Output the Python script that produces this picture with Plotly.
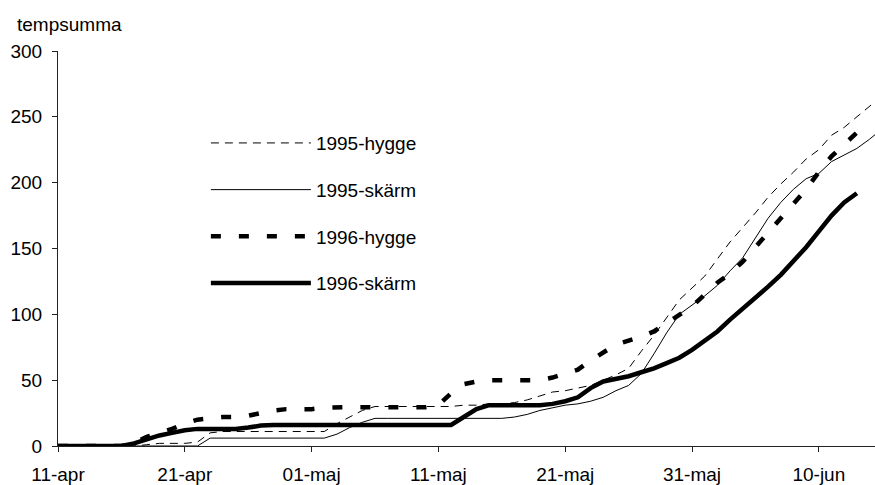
import pandas as pd
import plotly.graph_objects as go

# ---- data (daily values, starting 11-apr) ----
start_date = "1996-04-11"
dates = [d.strftime("%Y-%m-%d") for d in pd.date_range(start_date, "1996-06-15", freq="D")]

hygge_1995 = [0, 0, 0, 0, 0, 0, 0,
              1, 2, 2, 2, 3, 10,
              11, 11, 11, 11, 11, 11, 11, 11, 11,
              17, 22, 27, 30,
              30, 30, 30, 30, 30, 30,
              31, 31, 32, 32, 33, 35, 38, 41, 42, 44, 46, 50, 54, 59,
              72, 84, 98, 111, 120, 129, 142, 155, 166, 177, 189, 199, 208, 218, 225, 236, 242, 250, 258, 266]

skarm_1995 = [0, 0, 0, 0, 0, 0, 0, 0, 0, 0, 0, 0,
              6, 6, 6, 6, 6, 6, 6, 6, 6, 6,
              9, 14, 18, 21,
              21, 21, 21, 21, 21, 21, 21, 21, 21, 21,
              22, 24, 27, 29, 31, 32, 34, 37, 42, 46,
              55, 70, 86, 100, 107, 114, 122, 133, 143, 158, 173, 185, 195, 203, 207, 216, 221, 226, 233, 241]

hygge_1996 = [0, 0, 0, 0, 0, 0,
              2, 7, 10, 13, 17, 20, 21, 22, 22, 23, 25, 27, 28, 28, 28, 29,
              29.5, 29.5, 29.5, 29.5, 29.5, 29.5, 29.5, 29.5,
              31, 40, 47, 49,
              50, 50, 50, 50, 50,
              52, 55, 58, 65, 71, 77, 80, 83, 87, 93, 99, 106, 115, 124, 131, 140,
              151, 162, 174, 185, 195, 208, 220, 229, 238]

skarm_1996 = [0, 0, 0, 0, 0, 0,
              2, 5, 8, 10, 12, 13, 13, 13, 13, 14, 15.5,
              16, 16, 16, 16, 16, 16, 16, 16, 16, 16, 16, 16, 16, 16, 16,
              22, 28, 31,
              31, 31, 31, 31,
              32, 34, 37, 44, 49, 51, 53, 56, 59, 63, 67, 73, 80, 87, 96, 104, 112,
              121, 130, 140, 151, 163, 175, 185, 192]

series_names = ["1995-hygge", "1995-skärm", "1996-hygge", "1996-skärm"]
series_values = [hygge_1995, skarm_1995, hygge_1996, skarm_1996]

tick_dates = ["1996-04-11", "1996-04-21", "1996-05-01", "1996-05-11",
              "1996-05-21", "1996-05-31", "1996-06-10"]
tick_labels = ["11-apr", "21-apr", "01-maj", "11-maj", "21-maj", "31-maj", "10-jun"]
y_ticks = [0, 50, 100, 150, 200, 250, 300]

# ---- styles ----
styles = [
    dict(color="black", width=1, dash="8px,6px"),
    dict(color="black", width=1, dash="solid"),
    dict(color="black", width=4.5, dash="10px,18px"),
    dict(color="black", width=4.5, dash="solid"),
]

fig = go.Figure()
for i, (name, vals, st) in enumerate(zip(series_names, series_values, styles)):
    fig.add_trace(go.Scatter(
        x=dates[:len(vals)], y=vals, mode="lines", name=name,
        line=st, legendgroup=name, hoverinfo="skip"))

x_end = (pd.Timestamp(start_date) + pd.Timedelta(days=64.43)).strftime("%Y-%m-%d %H:%M")
x_range = [start_date, x_end]

font_family = "Liberation Sans, Arial, sans-serif"
fs = 19
axis_color = "#222222"

fig.update_layout(
    width=875, height=485,
    margin=dict(l=58, r=0, t=51, b=39),
    paper_bgcolor="white", plot_bgcolor="white",
    font=dict(family=font_family, size=fs, color="black"),
    showlegend=True,
    legend=dict(x=0.181, y=0.815, xanchor="left", yanchor="top",
                bgcolor="rgba(0,0,0,0)", tracegroupgap=19, itemwidth=100,
                font=dict(family=font_family, size=fs, color="black")),
    xaxis=dict(type="date", range=x_range, tickvals=tick_dates, ticktext=tick_labels,
               showgrid=False, zeroline=False, showline=True, linecolor=axis_color,
               linewidth=1, ticks="outside", ticklen=5, tickcolor=axis_color,
               ticklabelstandoff=6),
    yaxis=dict(range=[0, 300], tickvals=y_ticks, showgrid=False, zeroline=False,
               showline=True, linecolor=axis_color, linewidth=1, ticks="outside",
               ticklen=5, tickcolor=axis_color, ticklabelstandoff=6),
    xaxis2=dict(type="date", range=x_range, tickvals=tick_dates, overlaying="x",
                anchor="y", side="bottom", showticklabels=False, showgrid=False,
                zeroline=False, showline=False, ticks="inside", ticklen=5,
                tickcolor=axis_color),
    yaxis2=dict(range=[0, 300], tickvals=y_ticks, overlaying="y", anchor="x",
                side="left", showticklabels=False, showgrid=False, zeroline=False,
                showline=False, ticks="inside", ticklen=5, tickcolor=axis_color),
    annotations=[dict(text="tempsumma", xref="paper", yref="paper", x=-0.053, y=1.068,
                      xanchor="left", yanchor="middle", showarrow=False,
                      font=dict(family=font_family, size=fs, color="black"))],
)

fig.write_html("out.html")
